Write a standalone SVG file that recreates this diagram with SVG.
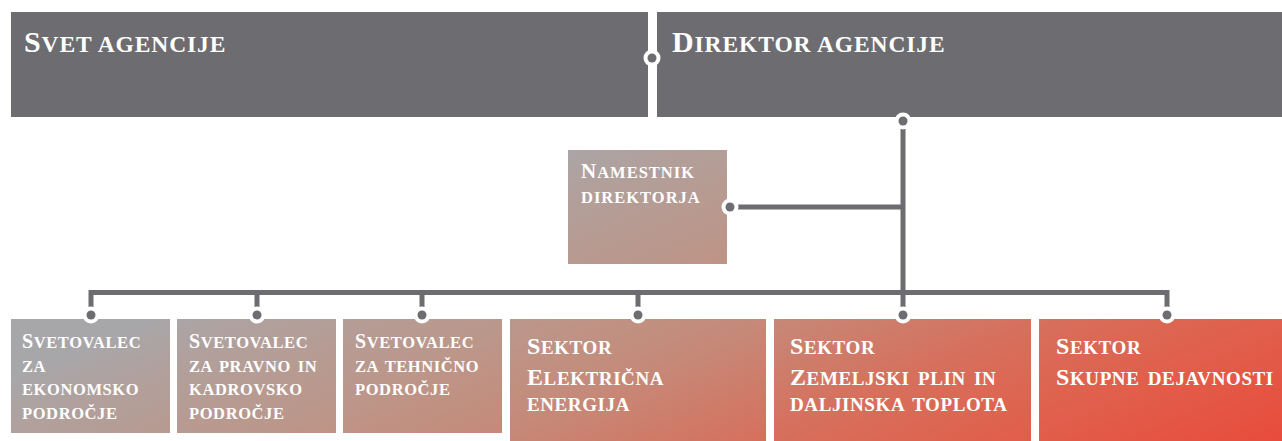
<svg xmlns="http://www.w3.org/2000/svg" width="1282" height="441" viewBox="0 0 1282 441">
<defs>
<linearGradient id="grad" gradientUnits="userSpaceOnUse" x1="139" y1="321" x2="362" y2="835">
<stop offset="0" stop-color="#a7a7aa"/>
<stop offset="0.096" stop-color="#b1a09c"/>
<stop offset="0.285" stop-color="#bc9689"/>
<stop offset="0.437" stop-color="#c58a79"/>
<stop offset="0.636" stop-color="#d6705d"/>
<stop offset="0.804" stop-color="#e0604c"/>
<stop offset="1" stop-color="#e84c3c"/>
</linearGradient>
<style>
.dark{fill:#6d6d71}
.box{fill:url(#grad)}
text{font-family:"Liberation Serif","DejaVu Serif",serif;font-weight:bold;fill:#ffffff}
.t1{font-size:23.5px;letter-spacing:0.9px}
.t1 .c{font-size:30px}
.t2{font-size:16.5px;letter-spacing:0.6px;word-spacing:2px}
.t2 .c{font-size:20px}
.t3{font-size:16.5px;letter-spacing:1px}
.t3 .c{font-size:21px}
.t4{font-size:19px;letter-spacing:0.6px;word-spacing:3px}
.t4 .c{font-size:24px}
.ln{fill:none;stroke:#6d6d71;stroke-width:5}
.halo{fill:#ffffff}
.dot{fill:#6d6d71}
</style>
</defs>

<g id="svet-agencije">
<rect class="dark" x="11" y="12" width="637" height="105"/>
<text class="t1" x="24" y="52"><tspan class="c">S</tspan>VET AGENCIJE</text>
</g>

<g id="direktor-agencije">
<rect class="dark" x="657" y="12" width="625" height="105"/>
<text class="t1" x="672" y="52"><tspan class="c">D</tspan>IREKTOR AGENCIJE</text>
</g>

<g id="namestnik-direktorja">
<rect class="box" x="568" y="150" width="159" height="114"/>
<text class="t3"><tspan x="581" y="178"><tspan class="c">N</tspan>AMESTNIK</tspan><tspan x="581" y="203">DIREKTORJA</tspan></text>
</g>

<g id="svetovalec-ekonomsko">
<rect class="box" x="11" y="319" width="159" height="114"/>
<text class="t2"><tspan x="22" y="348"><tspan class="c">S</tspan>VETOVALEC</tspan><tspan x="22" y="372">ZA</tspan><tspan x="22" y="395">EKONOMSKO</tspan><tspan x="22" y="419">PODROČJE</tspan></text>
</g>

<g id="svetovalec-pravno">
<rect class="box" x="177" y="319" width="159" height="114"/>
<text class="t2"><tspan x="189" y="348"><tspan class="c">S</tspan>VETOVALEC</tspan><tspan x="189" y="372">ZA PRAVNO IN</tspan><tspan x="189" y="395">KADROVSKO</tspan><tspan x="189" y="419">PODROČJE</tspan></text>
</g>

<g id="svetovalec-tehnicno">
<rect class="box" x="343" y="319" width="159" height="114"/>
<text class="t2"><tspan x="355" y="348"><tspan class="c">S</tspan>VETOVALEC</tspan><tspan x="355" y="372">ZA TEHNIČNO</tspan><tspan x="355" y="395">PODROČJE</tspan></text>
</g>

<g id="sektor-elektricna">
<rect class="box" x="510" y="319" width="256" height="122"/>
<text class="t4"><tspan x="527" y="354"><tspan class="c">S</tspan>EKTOR</tspan><tspan x="527" y="385"><tspan class="c">E</tspan>LEKTRIČNA</tspan><tspan x="527" y="411">ENERGIJA</tspan></text>
</g>

<g id="sektor-zemeljski-plin">
<rect class="box" x="774" y="319" width="257" height="122"/>
<text class="t4"><tspan x="790" y="354"><tspan class="c">S</tspan>EKTOR</tspan><tspan x="790" y="385"><tspan class="c">Z</tspan>EMELJSKI PLIN IN</tspan><tspan x="790" y="411">DALJINSKA TOPLOTA</tspan></text>
</g>

<g id="sektor-skupne">
<rect class="box" x="1039" y="319" width="243" height="122"/>
<text class="t4"><tspan x="1056" y="354"><tspan class="c">S</tspan>EKTOR</tspan><tspan x="1056" y="385"><tspan class="c">S</tspan>KUPNE DEJAVNOSTI</tspan></text>
</g>

<g id="connectors">
<path class="ln" d="M903 121 V315 M730 207 H903 M91 315 V292.5 H1167 V315 M257 292.5 V315 M422 292.5 V315 M638 292.5 V315"/>
<circle class="halo" cx="652" cy="58" r="8.5"/>
<circle class="dark" cx="652" cy="58" r="4.5"/>
<circle class="halo" cx="903" cy="121" r="8.5"/>
<circle class="dot" cx="903" cy="121" r="4.5"/>
<circle class="halo" cx="730" cy="207" r="8.5"/>
<circle class="dot" cx="730" cy="207" r="4.5"/>
<circle class="halo" cx="91" cy="315" r="8.5"/>
<circle class="dot" cx="91" cy="315" r="4.5"/>
<circle class="halo" cx="257" cy="315" r="8.5"/>
<circle class="dot" cx="257" cy="315" r="4.5"/>
<circle class="halo" cx="422" cy="315" r="8.5"/>
<circle class="dot" cx="422" cy="315" r="4.5"/>
<circle class="halo" cx="638" cy="315" r="8.5"/>
<circle class="dot" cx="638" cy="315" r="4.5"/>
<circle class="halo" cx="903" cy="315" r="8.5"/>
<circle class="dot" cx="903" cy="315" r="4.5"/>
<circle class="halo" cx="1167" cy="315" r="8.5"/>
<circle class="dot" cx="1167" cy="315" r="4.5"/>
</g>
</svg>
